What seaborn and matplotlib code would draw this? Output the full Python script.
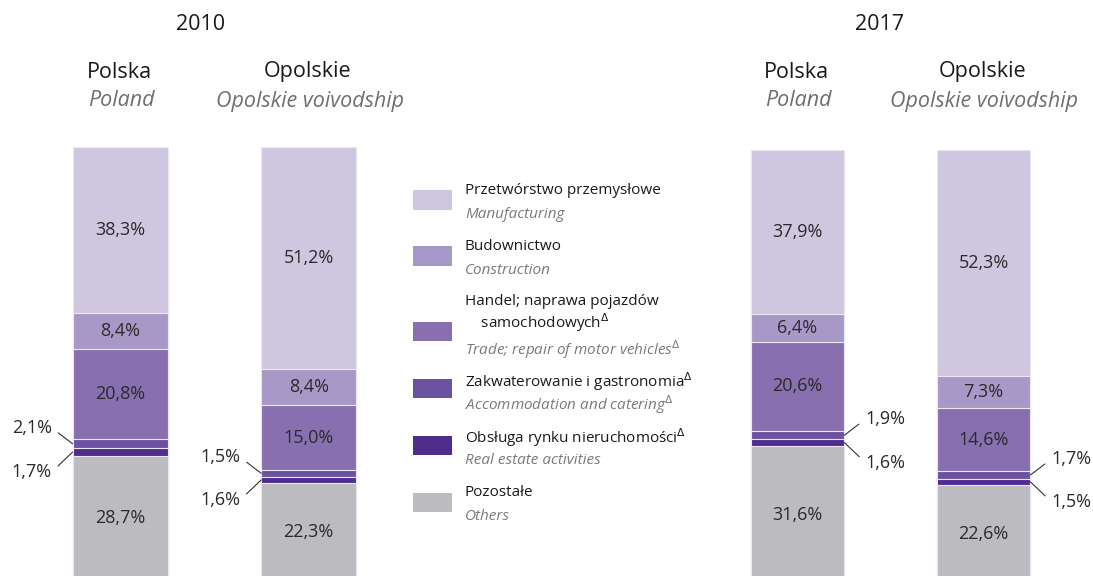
import matplotlib
matplotlib.use("Agg")
import matplotlib.pyplot as plt
import numpy as np
import pandas as pd
import seaborn as sns
from matplotlib.patches import Rectangle
from matplotlib import font_manager

sns.set_theme(style="white")
plt.rcParams["font.family"] = ["Open Sans", "DejaVu Sans"]

# Data (shares in %, bottom -> top of each bar)
sectors_pl = ["Pozostałe", "Obsługa rynku nieruchomości$^{\\Delta}$",
              "Zakwaterowanie i gastronomia$^{\\Delta}$",
              "Handel; naprawa pojazdów\n    samochodowych$^{\\Delta}$",
              "Budownictwo", "Przetwórstwo przemysłowe"]
sectors_en = ["Others", "Real estate activities", "Accommodation and catering$^{\\Delta}$",
              "Trade; repair of motor vehicles$^{\\Delta}$", "Construction", "Manufacturing"]
colors = ["#bcbcc0", "#4f2d8f", "#6b52a0", "#8870b0", "#a898c8", "#cfc6e0"]

regions_pl = ["Polska", "Opolskie"]
regions_en = ["Poland", "Opolskie voivodship"]
years = ["2010", "2017"]

polska_2010 = [28.7, 1.7, 2.1, 20.8, 8.4, 38.3]
opolskie_2010 = [22.3, 1.6, 1.5, 15.0, 8.4, 51.2]
polska_2017 = [31.6, 1.6, 1.9, 20.6, 6.4, 37.9]
opolskie_2017 = [22.6, 1.5, 1.7, 14.6, 7.3, 52.3]

values = {"2010": [polska_2010, opolskie_2010], "2017": [polska_2017, opolskie_2017]}

# condensed font for the legend if available
names = {f.name for f in font_manager.fontManager.ttflist}
if "Liberation Sans Narrow" in names:
    leg_family, leg_size = ["Liberation Sans Narrow", "DejaVu Sans"], 13
else:
    leg_family, leg_size = ["Open Sans", "DejaVu Sans"], 11

W, H = 1093, 576
fig = plt.figure(figsize=(W / 100, H / 100), dpi=100)


def fx(px):
    return px / W


def fy(py):
    return 1 - py / H


# panel layout: (left px, width px, top px, side of small labels)
panels = {"2010": (26, 377, 147, -1), "2017": (704.5, 372, 150, 1)}
title_x = {"2010": 201, "2017": 880}
scale = 4.33  # px per percent

for year in years:
    left, width, top, side = panels[year]
    bottom = top + 100 * scale
    ax = fig.add_axes([fx(left), fy(bottom), width / W, 100 * scale / H])
    df = pd.DataFrame(values[year], index=regions_pl, columns=sectors_en)
    cum = df.cumsum(axis=1)
    # draw tallest cumulative first so lower stacks cover it
    for k in range(len(sectors_en) - 1, -1, -1):
        sns.barplot(x=regions_pl, y=cum.iloc[:, k].values, color=colors[k],
                    width=0.505, saturation=1, edgecolor="#ebe7f2", linewidth=0.8, ax=ax)
    ax.set_xlim(-0.5, 1.5)
    ax.set_ylim(0, 100)
    ax.axis("off")

    for i, reg in enumerate(regions_pl):
        vals = df.loc[reg].values
        cums = cum.loc[reg].values
        for k in range(len(vals)):
            mid = cums[k] - vals[k] / 2
            txt = f"{vals[k]:.1f}%".replace(".", ",")
            if vals[k] >= 5:
                ax.text(i, mid, txt, ha="center", va="center", fontsize=13, color="#2a2a2a")
            else:
                edge = i + side * 0.2525
                dy = 16 if k == 2 else -20
                ax.annotate(txt, xy=(edge, mid), xytext=(side * 21, dy), textcoords="offset pixels",
                            ha="left" if side > 0 else "right", va="center", fontsize=13,
                            color="#2a2a2a",
                            arrowprops=dict(arrowstyle="-", color="#333333", lw=0.8,
                                            shrinkA=3, shrinkB=0,
                                            relpos=(0, 0.5) if side > 0 else (1, 0.5)))
        # headers
        cx = left + width * (i + 0.5) / 2
        fig.text(fx(cx - 1), fy(72), reg, ha="center", va="center", fontsize=15.5, color="#1a1a1a")
        fig.text(fx(cx + 1), fy(101), regions_en[i], ha="center", va="center", fontsize=15.5,
                 style="italic", color="#6f6f6f")
    fig.text(fx(title_x[year]), fy(24), year, ha="center", va="center", fontsize=15.5, color="#1a1a1a")

# legend (top -> bottom)
leg_y = [200, 256, 331, 388, 445, 502]
pl_y = [191, 247, 314, 382, 438, 493]
en_y = [215, 270, 350, 405, 461, 517]
for j, k in enumerate(range(len(sectors_en) - 1, -1, -1)):
    fig.add_artist(Rectangle((fx(413), fy(leg_y[j] + 9.5)), 39 / W, 19 / H,
                             transform=fig.transFigure, color=colors[k], lw=0))
    fig.text(fx(465), fy(pl_y[j]), sectors_pl[k], ha="left", va="center", fontsize=leg_size,
             family=leg_family, color="#1a1a1a", linespacing=1.15)
    fig.text(fx(465), fy(en_y[j]), sectors_en[k], ha="left", va="center", fontsize=leg_size,
             family=leg_family, style="italic", color="#7a7a7a")

fig.savefig("out.png", dpi=100)
